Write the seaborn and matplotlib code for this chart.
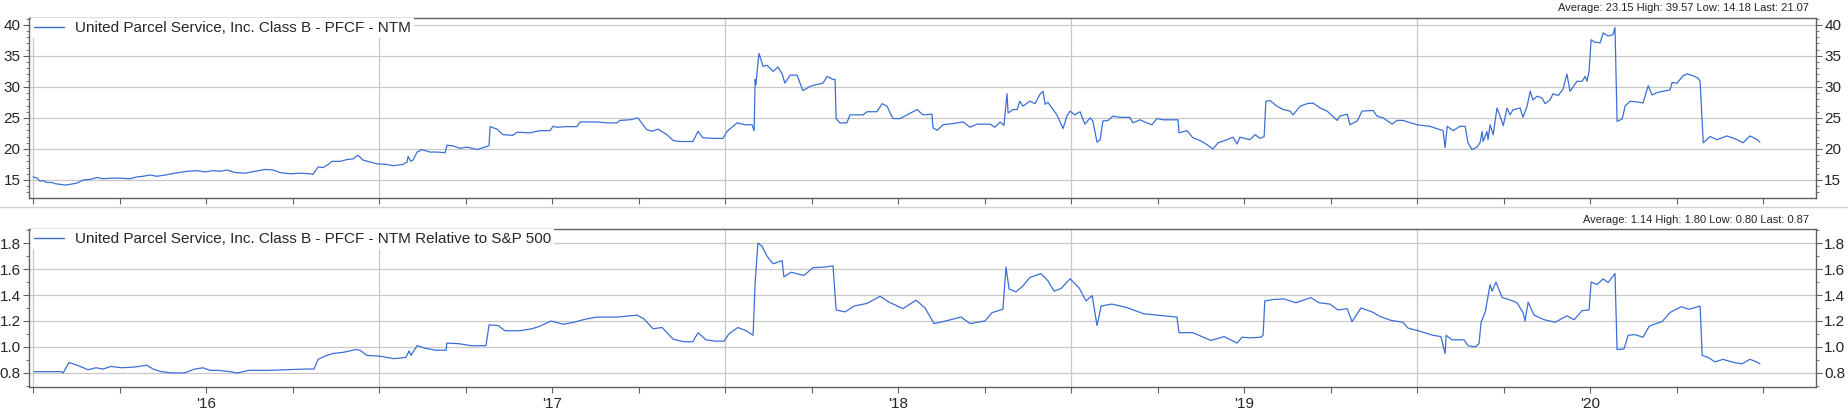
import numpy as np
import pandas as pd
import matplotlib
matplotlib.use("Agg")
import matplotlib.pyplot as plt
import seaborn as sns
from matplotlib.ticker import MultipleLocator, FixedLocator, FuncFormatter
from matplotlib.lines import Line2D

# ---------------- data (time in decimal years) ----------------
top_t = [2015.500, 2015.512, 2015.520, 2015.529, 2015.540, 2015.555, 2015.564, 2015.578, 2015.592, 2015.607,
         2015.627, 2015.645, 2015.665, 2015.685, 2015.702, 2015.723, 2015.751, 2015.780, 2015.801, 2015.818,
         2015.838, 2015.858, 2015.882, 2015.910, 2015.945, 2015.974, 2015.997, 2016.020, 2016.040, 2016.061,
         2016.084, 2016.113, 2016.142, 2016.171, 2016.194, 2016.214, 2016.243, 2016.272, 2016.301, 2016.309,
         2016.324, 2016.338, 2016.353, 2016.364, 2016.387, 2016.408, 2016.425, 2016.439, 2016.454, 2016.474,
         2016.494, 2016.523, 2016.540, 2016.569, 2016.581, 2016.584, 2016.592, 2016.598, 2016.610, 2016.624,
         2016.647, 2016.668, 2016.691, 2016.696, 2016.714, 2016.734, 2016.754, 2016.783, 2016.812, 2016.818,
         2016.821, 2016.841, 2016.858, 2016.887, 2016.899, 2016.936, 2016.965, 2016.994, 2017.003, 2017.014,
         2017.043, 2017.072, 2017.081, 2017.130, 2017.159, 2017.188, 2017.196, 2017.225, 2017.248, 2017.274,
         2017.289, 2017.306, 2017.332, 2017.350, 2017.370, 2017.407, 2017.422, 2017.436, 2017.471, 2017.494,
         2017.506, 2017.535, 2017.558, 2017.578, 2017.584, 2017.587, 2017.589, 2017.598, 2017.610, 2017.621,
         2017.639, 2017.653, 2017.665, 2017.673, 2017.688, 2017.708, 2017.725, 2017.746, 2017.766, 2017.783,
         2017.795, 2017.812, 2017.818, 2017.821, 2017.832, 2017.852, 2017.861, 2017.899, 2017.910, 2017.939,
         2017.954, 2017.968, 2017.985, 2018.006, 2018.026, 2018.055, 2018.072, 2018.098, 2018.101, 2018.113,
         2018.130, 2018.159, 2018.188, 2018.208, 2018.228, 2018.266, 2018.280, 2018.295, 2018.306, 2018.315,
         2018.318, 2018.332, 2018.344, 2018.352, 2018.361, 2018.381, 2018.396, 2018.410, 2018.419, 2018.425,
         2018.433, 2018.459, 2018.477, 2018.488, 2018.497, 2018.511, 2018.526, 2018.540, 2018.555, 2018.563,
         2018.575, 2018.584, 2018.592, 2018.607, 2018.621, 2018.641, 2018.670, 2018.679, 2018.699, 2018.719,
         2018.734, 2018.748, 2018.766, 2018.809, 2018.812, 2018.835, 2018.852, 2018.873, 2018.893, 2018.910,
         2018.925, 2018.951, 2018.968, 2018.980, 2018.988, 2019.017, 2019.032, 2019.046, 2019.058, 2019.063,
         2019.075, 2019.095, 2019.113, 2019.133, 2019.142, 2019.162, 2019.182, 2019.199, 2019.220, 2019.240,
         2019.269, 2019.277, 2019.298, 2019.306, 2019.327, 2019.341, 2019.373, 2019.384, 2019.402, 2019.428,
         2019.442, 2019.459, 2019.500, 2019.537, 2019.575, 2019.581, 2019.587, 2019.604, 2019.624, 2019.639,
         2019.647, 2019.659, 2019.673, 2019.682, 2019.688, 2019.691, 2019.702, 2019.705, 2019.711, 2019.720,
         2019.731, 2019.740, 2019.749, 2019.760, 2019.769, 2019.777, 2019.798, 2019.806, 2019.818, 2019.827,
         2019.835, 2019.847, 2019.861, 2019.870, 2019.884, 2019.893, 2019.908, 2019.922, 2019.933, 2019.942,
         2019.951, 2019.962, 2019.977, 2019.986, 2019.991, 2019.997, 2020.003, 2020.014, 2020.029, 2020.038,
         2020.052, 2020.066, 2020.072, 2020.078, 2020.092, 2020.095, 2020.101, 2020.116, 2020.145, 2020.153,
         2020.168, 2020.179, 2020.194, 2020.211, 2020.231, 2020.237, 2020.251, 2020.269, 2020.280, 2020.298,
         2020.312, 2020.318, 2020.327, 2020.347, 2020.367, 2020.396, 2020.425, 2020.442, 2020.462, 2020.483,
         2020.491]
top_v = [15.5, 15.3, 14.8, 14.9, 14.6, 14.6, 14.4, 14.3, 14.18, 14.3,
         14.5, 15.0, 15.1, 15.4, 15.2, 15.3, 15.3, 15.2, 15.5, 15.6,
         15.8, 15.6, 15.8, 16.1, 16.4, 16.5, 16.3, 16.5, 16.4, 16.6,
         16.2, 16.1, 16.4, 16.7, 16.6, 16.2, 16.0, 16.1, 16.0, 15.9,
         17.1, 17.0, 17.5, 18.0, 18.0, 18.3, 18.4, 19.0, 18.2, 17.9,
         17.6, 17.5, 17.3, 17.5, 17.9, 18.8, 18.0, 18.2, 19.5, 19.9,
         19.5, 19.5, 19.4, 20.6, 20.5, 20.1, 20.3, 19.9, 20.4, 20.6,
         23.6, 23.2, 22.3, 22.2, 22.7, 22.6, 22.95, 22.95, 23.65, 23.5,
         23.6, 23.6, 24.35, 24.35, 24.2, 24.2, 24.6, 24.7, 25.0, 23.1,
         22.85, 23.2, 22.3, 21.35, 21.2, 21.2, 22.85, 21.8, 21.7, 21.7,
         22.85, 24.2, 23.9, 23.9, 22.95, 31.2, 30.4, 35.4, 33.3, 33.5,
         32.5, 33.2, 32.1, 30.6, 31.9, 31.9, 29.4, 30.1, 30.4, 30.6,
         31.7, 31.2, 31.2, 24.9, 24.2, 24.2, 25.5, 25.5, 26.0, 26.0,
         27.3, 26.9, 24.9, 24.9, 25.5, 26.35, 25.5, 25.6, 23.4, 23.0,
         23.9, 24.1, 24.35, 23.5, 24.0, 24.0, 23.5, 24.35, 23.8, 28.9,
         25.8, 26.35, 26.35, 27.7, 26.9, 27.7, 27.3, 28.8, 29.3, 27.2,
         27.5, 25.5, 23.3, 25.3, 26.1, 25.5, 26.0, 24.0, 25.0, 24.5,
         21.1, 21.5, 24.5, 24.6, 25.3, 25.1, 25.1, 24.2, 24.7, 24.2,
         23.9, 24.9, 24.7, 24.7, 22.6, 22.95, 21.8, 21.35, 20.7, 20.0,
         21.0, 21.5, 21.9, 20.8, 21.9, 21.5, 22.3, 21.7, 22.0, 27.7,
         27.8, 26.9, 26.35, 26.1, 25.5, 26.9, 27.3, 27.4, 26.6, 26.1,
         24.6, 25.3, 25.6, 23.9, 24.5, 26.1, 26.2, 25.3, 25.0, 24.0,
         24.6, 24.6, 23.9, 23.65, 22.95, 20.2, 23.65, 22.95, 23.65, 23.65,
         21.0, 19.9, 20.3, 21.0, 22.8, 21.2, 22.8, 21.5, 23.9, 22.3,
         26.6, 25.3, 23.75, 26.6, 25.5, 26.3, 26.6, 25.1, 26.9, 29.3,
         27.9, 28.5, 28.2, 27.3, 27.9, 28.9, 28.6, 29.65, 32.1, 29.3,
         30.0, 30.9, 30.9, 31.7, 30.9, 32.5, 37.6, 37.2, 37.1, 38.7,
         38.2, 38.4, 39.57, 24.45, 24.8, 25.3, 26.9, 27.7, 27.5, 27.4,
         30.2, 28.7, 29.1, 29.3, 29.5, 30.7, 30.6, 31.8, 32.1, 31.8,
         31.4, 30.9, 21.0, 22.0, 21.5, 22.1, 21.5, 21.0, 22.1, 21.5,
         21.07]

bot_t = [2015.503, 2015.581, 2015.587, 2015.604, 2015.627, 2015.659, 2015.682, 2015.702, 2015.725, 2015.757,
         2015.792, 2015.829, 2015.847, 2015.870, 2015.902, 2015.936, 2015.968, 2015.991, 2016.012, 2016.035,
         2016.069, 2016.090, 2016.124, 2016.179, 2016.234, 2016.289, 2016.312, 2016.324, 2016.344, 2016.367,
         2016.399, 2016.433, 2016.445, 2016.465, 2016.500, 2016.543, 2016.578, 2016.587, 2016.592, 2016.610,
         2016.633, 2016.665, 2016.694, 2016.696, 2016.731, 2016.766, 2016.809, 2016.818, 2016.844, 2016.864,
         2016.907, 2016.942, 2016.965, 2016.997, 2017.032, 2017.063, 2017.098, 2017.130, 2017.188, 2017.246,
         2017.266, 2017.292, 2017.318, 2017.350, 2017.381, 2017.407, 2017.422, 2017.445, 2017.471, 2017.497,
         2017.511, 2017.537, 2017.561, 2017.581, 2017.587, 2017.595, 2017.607, 2017.621, 2017.639, 2017.665,
         2017.670, 2017.691, 2017.728, 2017.754, 2017.789, 2017.812, 2017.821, 2017.847, 2017.873, 2017.910,
         2017.948, 2017.974, 2018.014, 2018.052, 2018.078, 2018.104, 2018.130, 2018.182, 2018.208, 2018.251,
         2018.272, 2018.303, 2018.312, 2018.321, 2018.341, 2018.361, 2018.381, 2018.413, 2018.433, 2018.451,
         2018.471, 2018.497, 2018.523, 2018.543, 2018.561, 2018.575, 2018.587, 2018.618, 2018.659, 2018.711,
         2018.748, 2018.806, 2018.812, 2018.852, 2018.904, 2018.942, 2018.980, 2018.994, 2019.017, 2019.049,
         2019.055, 2019.060, 2019.084, 2019.115, 2019.150, 2019.193, 2019.217, 2019.248, 2019.271, 2019.298,
         2019.312, 2019.338, 2019.370, 2019.393, 2019.424, 2019.459, 2019.474, 2019.503, 2019.546, 2019.569,
         2019.581, 2019.584, 2019.601, 2019.636, 2019.647, 2019.668, 2019.679, 2019.685, 2019.697, 2019.711,
         2019.717, 2019.728, 2019.746, 2019.766, 2019.789, 2019.806, 2019.812, 2019.821, 2019.838, 2019.867,
         2019.899, 2019.933, 2019.954, 2019.977, 2019.997, 2020.003, 2020.020, 2020.038, 2020.052, 2020.072,
         2020.078, 2020.098, 2020.110, 2020.130, 2020.153, 2020.171, 2020.185, 2020.208, 2020.231, 2020.263,
         2020.286, 2020.318, 2020.324, 2020.341, 2020.361, 2020.384, 2020.416, 2020.439, 2020.462, 2020.477,
         2020.491]
bot_v = [0.81, 0.81, 0.80, 0.88, 0.86, 0.825, 0.84, 0.83, 0.85, 0.84,
         0.845, 0.86, 0.83, 0.81, 0.80, 0.80, 0.83, 0.84, 0.82, 0.82,
         0.81, 0.80, 0.82, 0.82, 0.825, 0.83, 0.83, 0.905, 0.93, 0.95,
         0.96, 0.98, 0.975, 0.935, 0.93, 0.91, 0.92, 0.97, 0.935, 1.01,
         0.99, 0.975, 0.975, 1.03, 1.025, 1.01, 1.01, 1.17, 1.165, 1.125,
         1.125, 1.14, 1.16, 1.20, 1.175, 1.19, 1.215, 1.23, 1.23, 1.245,
         1.215, 1.14, 1.15, 1.06, 1.04, 1.04, 1.11, 1.055, 1.045, 1.045,
         1.10, 1.15, 1.125, 1.09, 1.495, 1.80, 1.775, 1.70, 1.64, 1.665,
         1.54, 1.575, 1.55, 1.61, 1.615, 1.625, 1.285, 1.27, 1.315, 1.335,
         1.39, 1.345, 1.295, 1.36, 1.30, 1.18, 1.195, 1.23, 1.18, 1.20,
         1.265, 1.29, 1.615, 1.445, 1.425, 1.47, 1.535, 1.565, 1.51, 1.43,
         1.45, 1.525, 1.455, 1.355, 1.395, 1.165, 1.315, 1.33, 1.305, 1.255,
         1.245, 1.23, 1.11, 1.11, 1.05, 1.08, 1.03, 1.075, 1.07, 1.075,
         1.09, 1.355, 1.365, 1.37, 1.34, 1.38, 1.34, 1.33, 1.285, 1.295,
         1.195, 1.30, 1.27, 1.235, 1.205, 1.19, 1.145, 1.125, 1.09, 1.08,
         0.95, 1.09, 1.055, 1.055, 1.01, 1.00, 1.025, 1.19, 1.27, 1.48,
         1.43, 1.50, 1.38, 1.365, 1.34, 1.265, 1.20, 1.345, 1.245, 1.21,
         1.19, 1.24, 1.21, 1.28, 1.285, 1.50, 1.48, 1.525, 1.495, 1.565,
         0.98, 0.985, 1.09, 1.095, 1.075, 1.16, 1.175, 1.195, 1.265, 1.31,
         1.29, 1.315, 0.935, 0.92, 0.885, 0.905, 0.88, 0.87, 0.905, 0.89,
         0.87]

top_label = "United Parcel Service, Inc. Class B - PFCF - NTM"
bot_label = "United Parcel Service, Inc. Class B - PFCF - NTM Relative to S&P 500"
top_stats = "Average: 23.15 High: 39.57 Low: 14.18 Last: 21.07"
bot_stats = "Average: 1.14 High: 1.80 Low: 0.80 Last: 0.87"

quarter_ticks = [2015.5 + 0.25 * k for k in range(21)]
year_labels = {2016: "'16", 2017: "'17", 2018: "'18", 2019: "'19", 2020: "'20"}
vgrid = [2015.5, 2016.5, 2017.5, 2018.5, 2019.5]

# ---------------- style ----------------
sns.set_style("white")
plt.rcParams['font.family'] = ['Liberation Sans', 'DejaVu Sans']

LINE = '#3b6fd6'
GRID = '#c8c8c8'
SPINE = '#606060'

fig = plt.figure(figsize=(18.48, 4.13), dpi=100)
ax1 = fig.add_axes([0.0157, 0.5206, 0.9670, 0.4358])
ax2 = fig.add_axes([0.0157, 0.0630, 0.9670, 0.3825])

df_top = pd.DataFrame({'t': top_t, 'v': top_v})
df_bot = pd.DataFrame({'t': bot_t, 'v': bot_v})

sns.lineplot(data=df_top, x='t', y='v', ax=ax1, color=LINE, linewidth=0.9,
             estimator=None, sort=False, label=top_label)
sns.lineplot(data=df_bot, x='t', y='v', ax=ax2, color=LINE, linewidth=0.9,
             estimator=None, sort=False, label=bot_label)

ax1.set_ylim(12.1, 41.1)
ax1.yaxis.set_major_locator(MultipleLocator(5))
ax1.yaxis.set_minor_locator(MultipleLocator(1))
ax1.yaxis.set_major_formatter(FuncFormatter(lambda v, p: f"{v:.0f}"))

ax2.set_ylim(0.692, 1.908)
ax2.yaxis.set_major_locator(FixedLocator([0.8, 1.0, 1.2, 1.4, 1.6, 1.8]))
ax2.yaxis.set_minor_locator(MultipleLocator(0.1))
ax2.yaxis.set_major_formatter(FuncFormatter(lambda v, p: f"{v:.1f}"))

def xfmt(v, p):
    for y, s in year_labels.items():
        if abs(v - y) < 1e-6:
            return s
    return ""

for ax in (ax1, ax2):
    ax.set_xlim(2015.4884, 2020.653)
    ax.xaxis.set_major_locator(FixedLocator(quarter_ticks))
    ax.xaxis.set_major_formatter(FuncFormatter(xfmt))
    ax.set_xlabel("")
    ax.set_ylabel("")
    ax.set_axisbelow(True)
    ax.grid(axis='y', which='major', color=GRID, linewidth=0.9)
    for g in vgrid:
        ax.axvline(g, color=GRID, linewidth=0.9, zorder=0.5)
    for s in ax.spines.values():
        s.set_color(SPINE)
        s.set_linewidth(1.0)
        s.set_visible(True)
    ax.tick_params(axis='y', which='major', left=True, right=True, labelleft=True, labelright=True,
                   direction='out', length=4, width=0.8, color=SPINE, labelsize=11, pad=2)
    ax.tick_params(axis='y', which='minor', left=True, right=True, direction='out',
                   length=2, width=0.6, color=SPINE)
    ax.tick_params(axis='x', which='major', bottom=True, direction='out', length=4, width=0.8,
                   color=SPINE, labelsize=11, pad=3)
    leg = ax.legend(loc='upper left', bbox_to_anchor=(0.001, 0.998), borderaxespad=0.0,
                    frameon=True, fancybox=False, edgecolor='none', facecolor='white',
                    framealpha=1.0, fontsize=11, handlelength=2.0, handletextpad=0.7,
                    borderpad=0.2)
    for h in leg.get_lines():
        h.set_linewidth(1.0)

ax1.tick_params(axis='x', labelbottom=False)

fig.text(0.979, 0.981, top_stats, ha='right', va='center', fontsize=8)
fig.text(0.979, 0.467, bot_stats, ha='right', va='center', fontsize=8)
fig.add_artist(Line2D([0, 1], [0.4988, 0.4988], transform=fig.transFigure, color='#d4d4d4', linewidth=1.0))

fig.savefig("out.png", dpi=100, facecolor='white')
